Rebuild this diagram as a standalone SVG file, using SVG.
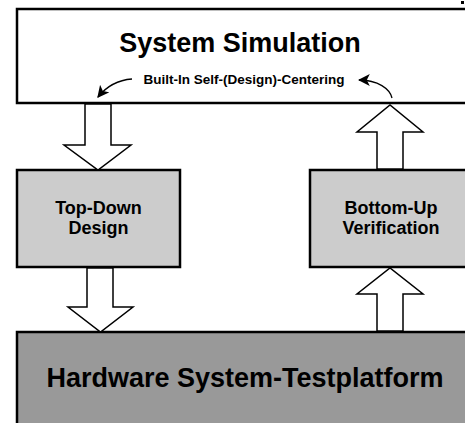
<svg xmlns="http://www.w3.org/2000/svg" width="465" height="423" viewBox="0 0 465 423">
<defs>
<style>
.box{stroke:#000;stroke-width:2.5}
.blk{fill:#fff;stroke:#000;stroke-width:1.5;stroke-linejoin:miter}
.t{font-family:"Liberation Sans",Arial,sans-serif;font-weight:bold;fill:#000;text-anchor:middle}
.curve{fill:none;stroke:#000;stroke-width:1.3}
</style>
<marker id="ah" viewBox="0 0 10 10" refX="9" refY="5" markerWidth="12" markerHeight="12" markerUnits="userSpaceOnUse" orient="auto">
<path d="M0,0 L10,5 L0,10 L2.5,5 Z" fill="#000"/>
</marker>
</defs>
<rect width="465" height="423" fill="#fff"/>
<rect x="461" y="1" width="3" height="3" fill="#000"/>
<g id="system-simulation">
<rect class="box" x="17" y="9" width="460" height="94" fill="#fff"/>
<text class="t" x="240" y="52" font-size="27">System Simulation</text>
<text class="t" x="244" y="84" font-size="13.5">Built-In Self-(Design)-Centering</text>
</g>
<g id="top-down">
<rect class="box" x="17" y="170" width="163" height="97" fill="#ccc"/>
<text class="t" x="98.5" y="214" font-size="18">Top-Down</text>
<text class="t" x="98.5" y="234" font-size="18">Design</text>
</g>
<g id="bottom-up">
<rect class="box" x="310" y="170" width="167" height="97" fill="#ccc"/>
<text class="t" x="391" y="214" font-size="18">Bottom-Up</text>
<text class="t" x="391" y="234" font-size="18">Verification</text>
</g>
<g id="hardware">
<rect class="box" x="17" y="332" width="460" height="100" fill="#999"/>
<text class="t" x="245" y="387" font-size="27">Hardware System-Testplatform</text>
</g>
<g id="connectors">
<path class="blk" d="M85,104 L111,104 L111,145 L131,145 L98,170 L64,145 L85,145 Z"/>
<path class="blk" d="M87,268 L113,268 L113,307 L133,307 L100.5,332 L68,307 L87,307 Z"/>
<path class="blk" d="M377,169 L403,169 L403,132 L423,132 L390,105 L357,132 L377,132 Z"/>
<path class="blk" d="M377,331 L403,331 L403,294 L423,294 L390,268 L357,294 L377,294 Z"/>
<path class="curve" d="M132,79 C118,80 106,87 98,97" marker-end="url(#ah)"/>
<path class="curve" d="M392,98 C390,89 378,80 359,80" marker-end="url(#ah)"/>
</g>
</svg>
